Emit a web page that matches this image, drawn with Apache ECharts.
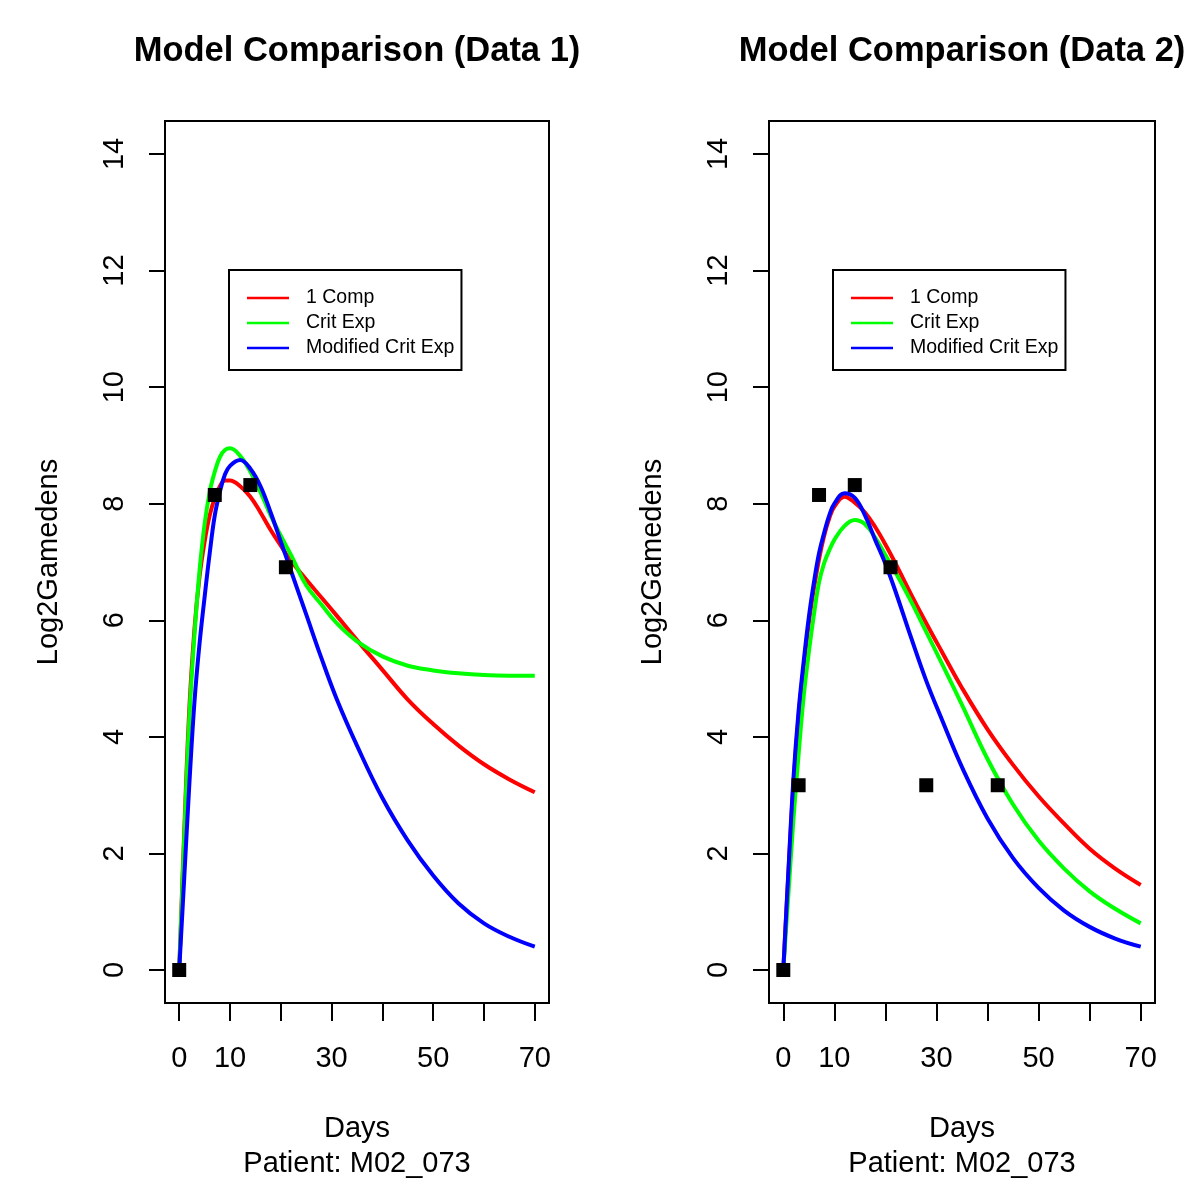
<!DOCTYPE html>
<html>
<head>
<meta charset="utf-8">
<script src="https://cdn.jsdelivr.net/npm/echarts@6/dist/echarts.min.js"></script>
<style>
html,body{margin:0;padding:0;background:#fff;}
#chart{width:1200px;height:1204px;}
</style>
</head>
<body>
<div id="chart"></div>
<script>
// ---- Axis ticks ----
const xTicks = [0, 10, 20, 30, 40, 50, 60, 70];
const xTickLabels = [0, 10, 30, 50, 70];
const yTicks = [0, 2, 4, 6, 8, 10, 12, 14];

// ---- Observed data ----
const obsDays1 = [0, 7, 14, 21];
const obsVals1 = [0, 8.15, 8.32, 6.91];
const obsDays2 = [0, 3, 7, 14, 21, 28, 42];
const obsVals2 = [0, 3.17, 8.15, 8.32, 6.91, 3.17, 3.17];

// ---- Model curves ----
const curveDays = [0, 1, 2, 3, 4, 5, 6, 7, 8, 9, 10, 12, 14, 16, 18, 20, 22, 25, 28, 31, 35, 40, 45, 50, 55, 60, 65, 70];

const comp1Data1 = [0, 2.4, 4.5, 5.85, 6.75, 7.35, 7.8, 8.1, 8.3, 8.4, 8.4, 8.3, 8.12, 7.85, 7.55, 7.28, 7.02, 6.7, 6.39, 6.08, 5.66, 5.15, 4.64, 4.22, 3.85, 3.53, 3.27, 3.05];
const critData1 = [0, 2.3, 4.35, 5.75, 6.85, 7.65, 8.2, 8.55, 8.8, 8.92, 8.95, 8.82, 8.55, 8.2, 7.8, 7.45, 7.12, 6.6, 6.27, 5.95, 5.64, 5.38, 5.22, 5.14, 5.09, 5.06, 5.05, 5.05];
const modCritData1 = [0, 1.6, 3.2, 4.6, 5.6, 6.4, 7.15, 7.8, 8.2, 8.5, 8.65, 8.75, 8.6, 8.3, 7.85, 7.35, 6.85, 6.1, 5.35, 4.65, 3.85, 2.95, 2.22, 1.62, 1.14, 0.80, 0.57, 0.40];

const comp1Data2 = [0, 1.65, 3.2, 4.35, 5.2, 5.95, 6.55, 7.05, 7.45, 7.75, 7.95, 8.12, 8.02, 7.85, 7.6, 7.3, 6.97, 6.45, 5.95, 5.47, 4.84, 4.13, 3.52, 2.98, 2.51, 2.08, 1.74, 1.46];
const critData2 = [0, 1.3, 2.6, 3.7, 4.7, 5.45, 6.1, 6.65, 6.98, 7.2, 7.38, 7.62, 7.72, 7.65, 7.42, 7.12, 6.82, 6.33, 5.8, 5.27, 4.55, 3.62, 2.84, 2.22, 1.74, 1.35, 1.05, 0.80];
const modCritData2 = [0, 1.7, 3.3, 4.45, 5.3, 6.05, 6.65, 7.15, 7.5, 7.8, 8.0, 8.18, 8.1, 7.8, 7.38, 6.97, 6.49, 5.71, 4.96, 4.31, 3.48, 2.6, 1.92, 1.41, 1.02, 0.74, 0.54, 0.40];

const titles = ['Model Comparison (Data 1)', 'Model Comparison (Data 2)'];
const seriesNames = ['1 Comp', 'Crit Exp', 'Modified Crit Exp'];
const seriesColors = ['#FF0000', '#00FF00', '#0000FF'];
const xName = 'Days\nPatient: M02_073';
const yName = 'Log2Gamedens';

function pairs(xs, ys) { return xs.map((x, i) => [x, ys[i]]); }

const FONT = '"Liberation Sans", Arial, sans-serif';
const gridsPos = [
  { left: 165, top: 121, width: 384, height: 882 },
  { left: 769, top: 121, width: 386, height: 882 }
];
const panels = [
  { obsX: obsDays1, obsY: obsVals1, curves: [comp1Data1, critData1, modCritData1] },
  { obsX: obsDays2, obsY: obsVals2, curves: [comp1Data2, critData2, modCritData2] }
];
const LINE_ICON = 'path://M0,0 L42,0 L42,2.5 L0,2.5 Z';

const option = {
  backgroundColor: '#fff',
  animation: false,
  title: [
    { text: titles[0], left: 352, top: 29, textAlign: 'center',
      textStyle: { fontFamily: FONT, fontSize: 34.5, fontWeight: 'bold', color: '#000' } },
    { text: titles[1], left: 957, top: 29, textAlign: 'center',
      textStyle: { fontFamily: FONT, fontSize: 34.5, fontWeight: 'bold', color: '#000' } }
  ],
  legend: gridsPos.map((g, i) => ({
    data: seriesNames.map(n => ({ name: n, icon: LINE_ICON })),
    orient: 'vertical',
    left: g.left + 64,
    top: 270,
    itemWidth: 42,
    itemHeight: 14,
    itemGap: 5,
    padding: [18, 7, 12, 18],
    borderColor: '#000',
    borderWidth: 2,
    backgroundColor: '#fff',
    selectedMode: false,
    textStyle: { fontFamily: FONT, fontSize: 19.5, color: '#000', padding: [0, 0, 0, 12] }
  })),
  grid: gridsPos.map(g => ({
    left: g.left, top: g.top, width: g.width, height: g.height,
    show: true, borderColor: '#000', borderWidth: 2, backgroundColor: 'transparent',
    containLabel: false
  })),
  xAxis: gridsPos.map((g, i) => ({
    type: 'value', gridIndex: i, min: -2.8, max: 72.8,
    axisLine: { show: false, onZero: false },
    splitLine: { show: false },
    axisTick: { show: true, length: 18, customValues: xTicks, lineStyle: { color: '#000', width: 2 } },
    axisLabel: { customValues: xTickLabels, fontFamily: FONT, fontSize: 29, color: '#000', margin: 41 },
    name: xName, nameLocation: 'middle', nameGap: 108,
    nameTextStyle: { fontFamily: FONT, fontSize: 29, color: '#000', lineHeight: 35 }
  })),
  yAxis: gridsPos.map((g, i) => ({
    type: 'value', gridIndex: i, min: -0.566, max: 14.566,
    axisLine: { show: false, onZero: false },
    splitLine: { show: false },
    axisTick: { show: true, length: 16, customValues: yTicks, lineStyle: { color: '#000', width: 2 } },
    axisLabel: { customValues: yTicks, rotate: 90, fontFamily: FONT, fontSize: 29, color: '#000', margin: 36 },
    name: yName, nameLocation: 'middle', nameGap: 102, nameRotate: 90,
    nameTextStyle: { fontFamily: FONT, fontSize: 29, color: '#000' }
  })),
  series: []
};

panels.forEach((p, i) => {
  p.curves.forEach((c, k) => {
    option.series.push({
      type: 'line', name: seriesNames[k], xAxisIndex: i, yAxisIndex: i,
      data: pairs(curveDays, c), smooth: 0.4,
      symbol: 'none', z: 2 + k,
      lineStyle: { color: seriesColors[k], width: 4 },
      itemStyle: { color: seriesColors[k] }
    });
  });
  option.series.push({
    type: 'scatter', name: 'obs' + i, xAxisIndex: i, yAxisIndex: i,
    data: pairs(p.obsX, p.obsY), symbol: 'rect', symbolSize: 14, z: 10,
    itemStyle: { color: '#000', opacity: 1 }
  });
});

const chart = echarts.init(document.getElementById('chart'), null, { renderer: 'canvas' });
chart.setOption(option);
</script>
</body>
</html>
